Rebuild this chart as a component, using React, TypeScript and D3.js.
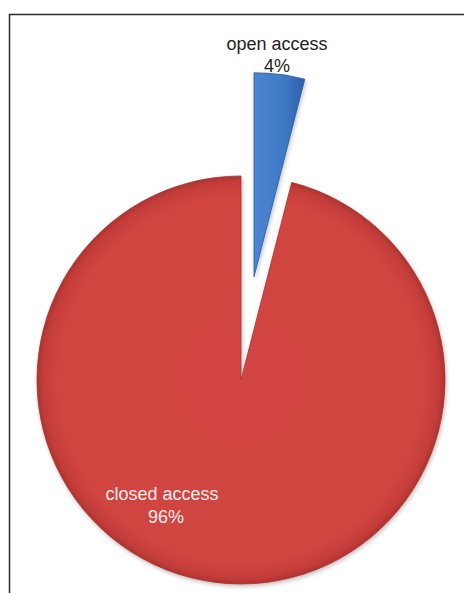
import React from "react";
import * as d3 from "d3";

const categories = ["open access", "closed access"];
const values = [4, 96];
const percentLabels = ["4%", "96%"];
const explodeOffsets = [104, 0];

const W = 464;
const H = 593;
const cx = 241;
const cy = 380;
const R = 204;

export default function App() {
  const pie = d3
    .pie<number>()
    .sort(null)
    .value((d) => d)
    .startAngle(0)
    .endAngle(2 * Math.PI);
  const arcs = pie(values);
  const arcGen = d3.arc<d3.PieArcDatum<number>>().innerRadius(0).outerRadius(R);

  const fills = ["url(#gBlue)", "url(#gRed)"];
  const strokes = ["#2a5a9c", "#a8322f"];

  return (
    <svg
      width={W}
      height={H}
      style={{ position: "fixed", left: 0, top: 0, background: "#fff" }}
      fontFamily="'Liberation Sans', Arial, sans-serif"
    >
      <defs>
        <radialGradient id="gRed" cx={0} cy={0} r={R} gradientUnits="userSpaceOnUse">
          <stop offset="0%" stopColor="#d24542" />
          <stop offset="90%" stopColor="#d04441" />
          <stop offset="97%" stopColor="#c43d3a" />
          <stop offset="100%" stopColor="#ad3431" />
        </radialGradient>
        <linearGradient id="gBlue" x1="0" y1="0" x2="1" y2="0">
          <stop offset="0%" stopColor="#4c86d2" />
          <stop offset="60%" stopColor="#3f78c6" />
          <stop offset="100%" stopColor="#2c5fa8" />
        </linearGradient>
        <filter id="shadow" x="-10%" y="-10%" width="120%" height="120%">
          <feDropShadow dx="1" dy="2" stdDeviation="2" floodColor="#000" floodOpacity="0.25" />
        </filter>
      </defs>
      <rect x={0} y={0} width={W} height={H} fill="#fff" />
      <path d={`M9.5,${H} L9.5,14.5 L${W},14.5`} fill="none" stroke="#2a2a2a" strokeWidth={1.5} />
      {arcs.map((a, i) => {
        const mid = (a.startAngle + a.endAngle) / 2;
        const dx = Math.sin(mid) * explodeOffsets[i];
        const dy = -Math.cos(mid) * explodeOffsets[i];
        return (
          <g key={categories[i]} transform={`translate(${cx + dx},${cy + dy})`}>
            <path
              d={arcGen(a) || ""}
              fill={fills[i]}
              stroke={strokes[i]}
              strokeWidth={0.8}
              filter="url(#shadow)"
            />
          </g>
        );
      })}
      <g fontSize={18} textAnchor="middle" fill="#222">
        <text x={277} y={50}>{categories[0]}</text>
        <text x={277} y={72}>{percentLabels[0]}</text>
      </g>
      <g fontSize={18} textAnchor="middle" fill="#f7ecec">
        <text x={162} y={500}>{categories[1]}</text>
        <text x={166} y={523}>{percentLabels[1]}</text>
      </g>
    </svg>
  );
}
